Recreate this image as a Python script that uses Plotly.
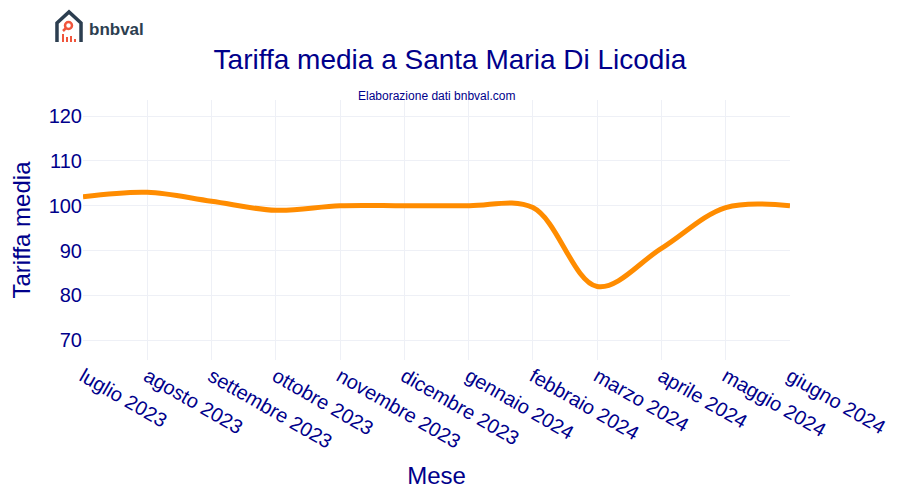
import plotly.graph_objects as go

mesi = [
    "luglio 2023", "agosto 2023", "settembre 2023", "ottobre 2023",
    "novembre 2023", "dicembre 2023", "gennaio 2024", "febbraio 2024",
    "marzo 2024", "aprile 2024", "maggio 2024", "giugno 2024",
]
tariffa = [102, 103, 101, 99, 100, 100, 100, 99.6, 82, 90.5, 99.6, 100]

W, H = 900, 500
OFF = 8  # page body margin
ML, MR, MT, MB = 75, 118, 92, 148
NAVY = "#00008B"


def px(x, y):
    # page pixel -> paper coords
    x, y = x - OFF, y - OFF
    return (x - ML) / (W - ML - MR), 1 - (y - MT) / (H - MT - MB)


def path(points, close=False):
    s = ""
    for i, (x, y) in enumerate(points):
        a, b = px(x, y)
        s += ("M" if i == 0 else "L") + f"{a:.4f},{b:.4f} "
    return s + ("Z" if close else "")


fig = go.Figure()
fig.add_trace(go.Scatter(
    x=mesi, y=tariffa, mode="lines",
    line=dict(color="#FF8C00", width=5, shape="spline"),
    hovertemplate="%{x}: %{y}<extra></extra>",
))

# logo (house + magnifier + bars)
shapes = [
    dict(type="path", xref="paper", yref="paper",
         path=path([(57, 42), (57, 23), (69, 12), (81, 23), (81, 42)]),
         line=dict(color="#2C3E50", width=3.5)),
]
for x0, y0 in [(62, 34), (66, 37), (70, 36), (74, 39)]:
    a0, b0 = px(x0, y0)
    a1, b1 = px(x0 + 2, 42)
    shapes.append(dict(type="rect", xref="paper", yref="paper",
                       x0=a0, y0=b1, x1=a1, y1=b0,
                       fillcolor="#F0553C", line=dict(width=0)))
a0, b0 = px(65, 22)
a1, b1 = px(72, 29)
shapes.append(dict(type="circle", xref="paper", yref="paper",
                   x0=a0, y0=b1, x1=a1, y1=b0,
                   line=dict(color="#F0553C", width=2.5)))
shapes.append(dict(type="path", xref="paper", yref="paper",
                   path=path([(66, 28), (63, 31)]),
                   line=dict(color="#F0553C", width=2.5)))

lx, ly = px(87, 29)
sx, sy = px(436, 96)
fig.update_layout(
    width=W, height=H,
    margin=dict(l=ML, r=MR, t=MT, b=MB, autoexpand=False),
    template="plotly_white",
    showlegend=False,
    font=dict(family="Arial, Liberation Sans, sans-serif", color=NAVY),
    title=dict(text="Tariffa media a Santa Maria Di Licodia", x=0.491, y=0.898,
               xanchor="center", yanchor="middle", automargin=False,
               font=dict(size=28, color=NAVY)),
    xaxis=dict(title=dict(text="Mese", font=dict(size=24, color=NAVY)),
               tickangle=30, tickfont=dict(size=20, color=NAVY),
               range=[0, len(mesi) - 1], showline=False, zeroline=False,
               automargin=False, gridcolor="#EEF0F6"),
    yaxis=dict(title=dict(text="Tariffa media", font=dict(size=24, color=NAVY)),
               tickfont=dict(size=20, color=NAVY), automargin=False,
               range=[min(tariffa) * 0.8, max(tariffa) * 1.2],
               dtick=10, zeroline=False, gridcolor="#EEF0F6"),
    shapes=shapes,
    annotations=[
        dict(text="Elaborazione dati bnbval.com", xref="paper", yref="paper",
             x=sx, y=sy, xanchor="center", yanchor="middle", showarrow=False,
             font=dict(size=12, color=NAVY)),
        dict(text="<b>bnbval</b>", xref="paper", yref="paper",
             x=lx, y=ly, xanchor="left", yanchor="middle", showarrow=False,
             font=dict(size=17, color="#2C3E50")),
    ],
)

fig.write_html("out.html")
